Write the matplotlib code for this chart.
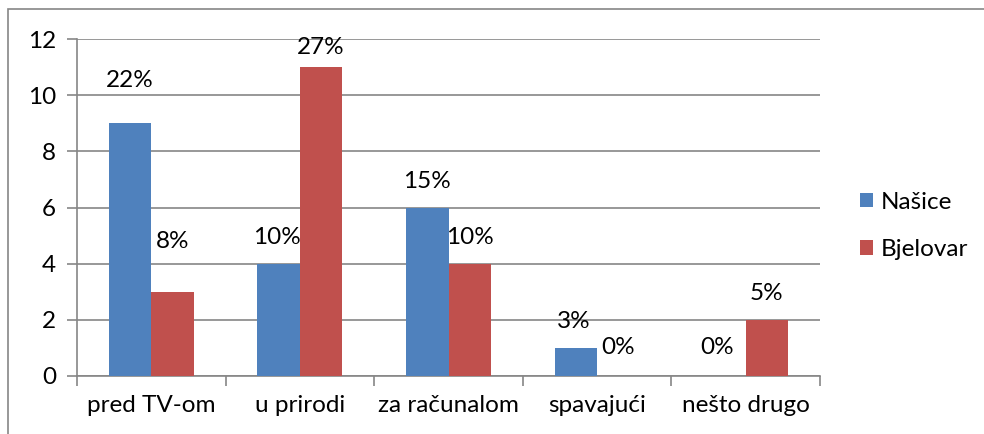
import numpy as np
import matplotlib.pyplot as plt
from matplotlib.patches import Rectangle

plt.rcParams['font.family'] = ['Lato', 'DejaVu Sans']

kategorije = ['pred TV-om', 'u prirodi', 'za računalom', 'spavajući', 'nešto drugo']
nasice = [9, 4, 6, 1, 0]
bjelovar = [3, 11, 4, 0, 2]
nasice_post = ['22%', '10%', '15%', '3%', '0%']
bjelovar_post = ['8%', '27%', '10%', '0%', '5%']

# pomaci oznaka (px) kao u originalu - ručno pomaknute
nasice_pomak = [(0, 43), (-2, 26), (0, 26), (-2, 26), (-7, 28)]
bjelovar_pomak = [(0, 50), (0, 20), (0, 26), (0, 28), (0, 26)]

plava = '#4F81BD'
crvena = '#C0504D'
siva = '#868686'
fs = 17.5

fig = plt.figure(figsize=(9.84, 4.34), dpi=100)
fig.patches.append(Rectangle((8 / 984, -0.01), 1.0, 1 - 9 / 434 + 0.01,
                             transform=fig.transFigure, fill=False,
                             edgecolor=siva, linewidth=1.2))
ax = fig.add_axes([77 / 984, 1 - 376 / 434, 743 / 984, 337 / 434])

x = np.arange(len(kategorije))
w = 0.2857
b1 = ax.bar(x - w / 2, nasice, w, color=plava, label='Našice', zorder=3)
b2 = ax.bar(x + w / 2, bjelovar, w, color=crvena, label='Bjelovar', zorder=3)

for bars, post, pomak in [(b1, nasice_post, nasice_pomak), (b2, bjelovar_post, bjelovar_pomak)]:
    for r, t, (dx, dy) in zip(bars, post, pomak):
        ax.annotate(t, (r.get_x() + r.get_width() / 2, r.get_height()),
                    xytext=(dx, dy), textcoords='offset pixels',
                    ha='center', va='center', fontsize=fs, color='black')

ax.set_xlim(-0.5, len(kategorije) - 0.5)
ax.set_ylim(0, 12)
ax.set_yticks(range(0, 13, 2))
ax.yaxis.grid(True, color=siva, linewidth=1.2, zorder=0)
ax.set_xticks(x)
ax.set_xticklabels(kategorije, fontsize=fs)
ax.set_xticks(np.arange(-0.5, len(kategorije)), minor=True)
ax.tick_params(axis='x', which='major', length=0, pad=14)
ax.tick_params(axis='x', which='minor', length=7, color=siva, width=1.2)
ax.tick_params(axis='y', length=7, color=siva, width=1.2, labelsize=fs, pad=8)
for s in ['top', 'right']:
    ax.spines[s].set_visible(False)
for s in ['left', 'bottom']:
    ax.spines[s].set_color(siva)
    ax.spines[s].set_linewidth(1.2)

fig.legend(handles=[b1, b2], loc='center left', bbox_to_anchor=(860 / 984, 1 - 226 / 434),
           frameon=False, fontsize=fs, handlelength=0.55, handleheight=0.55,
           handletextpad=0.3, labelspacing=1.1, borderpad=0, borderaxespad=0)

fig.savefig('out.png', dpi=100)
